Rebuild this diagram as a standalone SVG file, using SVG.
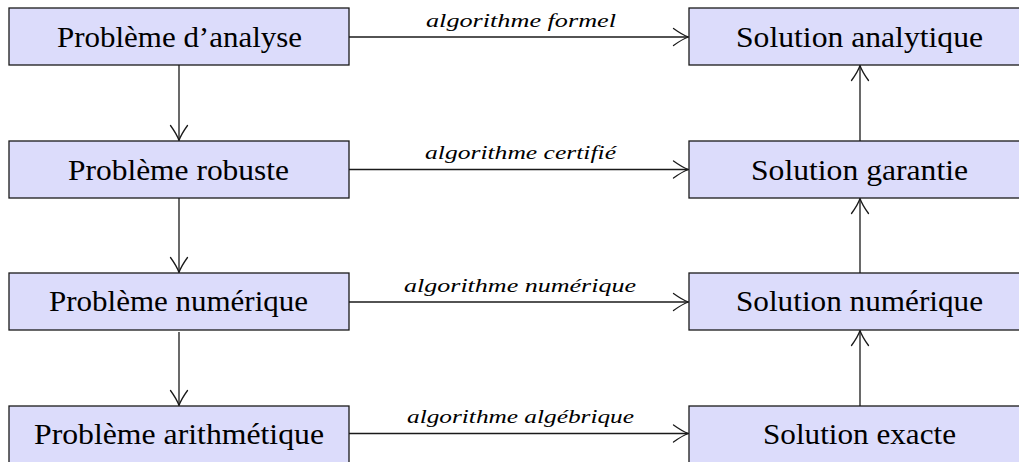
<svg xmlns="http://www.w3.org/2000/svg" width="1019" height="462" viewBox="0 0 1019 462">
<style>
.box{fill:#dcdcfb;stroke:#1a1a1a;stroke-width:1.3}
.nt{font-family:"Liberation Serif","Times New Roman",serif;font-size:30px;fill:#000;text-anchor:middle}
.lt{font-family:"Liberation Serif","Times New Roman",serif;font-style:italic;font-size:19px;fill:#000;text-anchor:middle}
.edge{stroke:#1a1a1a;stroke-width:1.3;fill:none;marker-end:url(#to)}
</style>
<defs>
<marker id="to" markerUnits="userSpaceOnUse" markerWidth="20" markerHeight="20" viewBox="-16 -10 18 20" refX="0" refY="0" orient="auto" overflow="visible">
<path d="M-15,-8.5 Q-6,-2 0,0 Q-6,2 -15,8.5" fill="none" stroke="#1a1a1a" stroke-width="1.3" stroke-linecap="round"/>
</marker>
</defs>
<rect width="1019" height="462" fill="#fff"/>
<g id="connectors">
<path class="edge" d="M349,37 H688.5"/>
<path class="edge" d="M349,169.5 H688.5"/>
<path class="edge" d="M349,302 H688.5"/>
<path class="edge" d="M349,433.5 H688.5"/>
<path class="edge" d="M179,65 V140.5"/>
<path class="edge" d="M179,198 V272.5"/>
<path class="edge" d="M179,332 V405.5"/>
<path class="edge" d="M860,141 V65.5"/>
<path class="edge" d="M860,273 V198.5"/>
<path class="edge" d="M860,406 V330.5"/>
<text class="lt" x="521" y="26.5" textLength="190" lengthAdjust="spacingAndGlyphs">algorithme formel</text>
<text class="lt" x="520.5" y="159" textLength="191" lengthAdjust="spacingAndGlyphs">algorithme certifié</text>
<text class="lt" x="520" y="291.5" textLength="232" lengthAdjust="spacingAndGlyphs">algorithme numérique</text>
<text class="lt" x="520.5" y="423" textLength="227" lengthAdjust="spacingAndGlyphs">algorithme algébrique</text>
</g>
<g id="p-analyse"><rect class="box" x="9" y="8" width="340" height="57"/><text class="nt" x="179.5" y="46.5" textLength="245" lengthAdjust="spacingAndGlyphs">Problème d’analyse</text></g>
<g id="p-robuste"><rect class="box" x="9" y="141" width="340" height="57"/><text class="nt" x="178.5" y="179.5" textLength="221" lengthAdjust="spacingAndGlyphs">Problème robuste</text></g>
<g id="p-numerique"><rect class="box" x="9" y="273" width="340" height="57"/><text class="nt" x="178.5" y="311" textLength="259" lengthAdjust="spacingAndGlyphs">Problème numérique</text></g>
<g id="p-arith"><rect class="box" x="9" y="406" width="340" height="57"/><text class="nt" x="179" y="444" textLength="290" lengthAdjust="spacingAndGlyphs">Problème arithmétique</text></g>
<g id="s-analytique"><rect class="box" x="689" y="8" width="342" height="57"/><text class="nt" x="859.5" y="46.5" textLength="247" lengthAdjust="spacingAndGlyphs">Solution analytique</text></g>
<g id="s-garantie"><rect class="box" x="689" y="141" width="342" height="57"/><text class="nt" x="859.5" y="179.5" textLength="217" lengthAdjust="spacingAndGlyphs">Solution garantie</text></g>
<g id="s-numerique"><rect class="box" x="689" y="273" width="342" height="57"/><text class="nt" x="859.5" y="311" textLength="247" lengthAdjust="spacingAndGlyphs">Solution numérique</text></g>
<g id="s-exacte"><rect class="box" x="689" y="406" width="342" height="57"/><text class="nt" x="859.5" y="444" textLength="193" lengthAdjust="spacingAndGlyphs">Solution exacte</text></g>
</svg>
